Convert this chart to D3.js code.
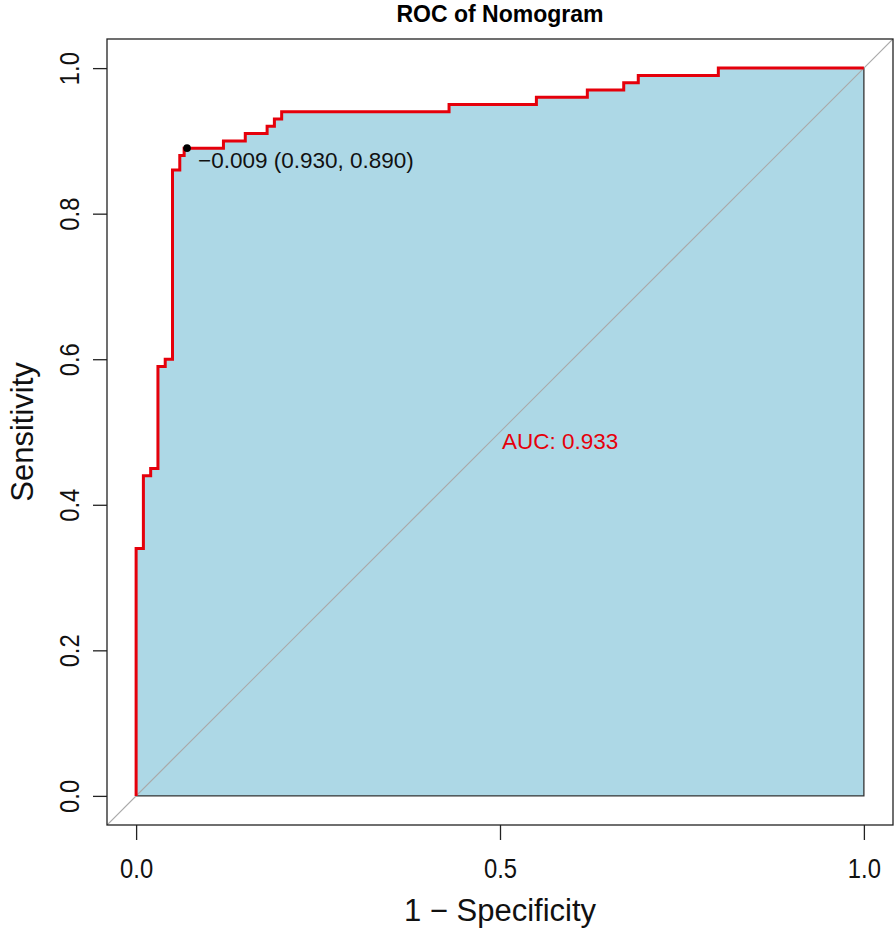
<!DOCTYPE html>
<html>
<head>
<meta charset="utf-8">
<script src="https://cdn.jsdelivr.net/npm/d3@7"></script>
<style>
  body { margin: 0; background: #fff; }
  svg { font-family: "Liberation Sans", Arial, sans-serif; }
  .axis path, .axis line { stroke: #222; stroke-width: 1.3; }
  .axis text { font-size: 28px; fill: #111; }
  .label { font-size: 31px; fill: #111; }
</style>
</head>
<body>
<script>
// ROC curve points (1 - specificity, sensitivity), step drawn vertical then horizontal
var fpr = [0, 0.01, 0.02, 0.03, 0.04, 0.05, 0.06, 0.066, 0.12, 0.15, 0.18, 0.19, 0.20, 0.43, 0.55, 0.62, 0.67, 0.69, 0.80, 1.0];
var tpr = [0, 0.34, 0.44, 0.45, 0.59, 0.60, 0.86, 0.88, 0.89, 0.90, 0.91, 0.92, 0.93, 0.94, 0.95, 0.96, 0.97, 0.98, 0.99, 1.0];

var xTicks = [0, 0.5, 1];
var yTicks = [0, 0.2, 0.4, 0.6, 0.8, 1];

// best threshold and AUC printed on the plot
var bestThreshold = -0.009, bestSpec = 0.930, bestSens = 0.890;
var auc = 0.933;

var width = 896, height = 930;
var box = {left: 107, right: 893, top: 39, bottom: 825};

var xScale = d3.scaleLinear().domain([-0.04, 1.04]).range([box.left, box.right]);
var yScale = d3.scaleLinear().domain([-0.04, 1.04]).range([box.bottom, box.top]);

var svg = d3.select("body").append("svg")
    .attr("width", width)
    .attr("height", height);

var data = fpr.map(function(d, i) { return {x: d, y: tpr[i]}; });

svg.append("defs").append("clipPath")
    .attr("id", "clip")
  .append("rect")
    .attr("x", box.left).attr("y", box.top)
    .attr("width", box.right - box.left)
    .attr("height", box.bottom - box.top);

// AUC polygon
var area = d3.area()
    .curve(d3.curveStepBefore)
    .x(function(d) { return xScale(d.x); })
    .y0(yScale(0))
    .y1(function(d) { return yScale(d.y); });

svg.append("path")
    .datum(data)
    .attr("d", area)
    .attr("fill", "#add8e6")
    .attr("stroke", "#333")
    .attr("stroke-width", 1.3);

// diagonal reference line
svg.append("line")
    .attr("clip-path", "url(#clip)")
    .attr("x1", xScale(-0.04)).attr("y1", yScale(-0.04))
    .attr("x2", xScale(1.04)).attr("y2", yScale(1.04))
    .attr("stroke", "#a9a9a9")
    .attr("stroke-width", 1.2);

// ROC curve
var line = d3.line()
    .curve(d3.curveStepBefore)
    .x(function(d) { return xScale(d.x); })
    .y(function(d) { return yScale(d.y); });

svg.append("path")
    .datum(data)
    .attr("d", line)
    .attr("fill", "none")
    .attr("stroke", "#e5000b")
    .attr("stroke-width", 3);

// plot box
svg.append("rect")
    .attr("x", box.left).attr("y", box.top)
    .attr("width", box.right - box.left)
    .attr("height", box.bottom - box.top)
    .attr("fill", "none")
    .attr("stroke", "#222")
    .attr("stroke-width", 1.3);

// axes
var xAxis = d3.axisBottom(xScale).tickValues(xTicks)
    .tickFormat(d3.format(".1f")).tickSize(15).tickSizeOuter(0).tickPadding(18);
var yAxis = d3.axisLeft(yScale).tickValues(yTicks)
    .tickFormat(d3.format(".1f")).tickSize(14).tickSizeOuter(0);

var gx = svg.append("g")
    .attr("class", "axis")
    .attr("transform", "translate(0," + box.bottom + ")")
    .call(xAxis);
gx.select(".domain").remove();
// narrow, tall digits as in the original device
gx.selectAll(".tick text").attr("transform", "scale(0.85,1)");

var gy = svg.append("g")
    .attr("class", "axis")
    .attr("transform", "translate(" + box.left + ",0)")
    .call(yAxis);
gy.select(".domain").remove();
gy.selectAll(".tick text")
    .attr("transform", "rotate(-90) scale(0.85,1)")
    .attr("x", 0)
    .attr("y", -28)
    .attr("dy", 0)
    .style("text-anchor", "middle");

// labels
svg.append("text")
    .attr("class", "label")
    .attr("x", xScale(0.5))
    .attr("y", 921)
    .style("text-anchor", "middle")
    .text("1 \u2212 Specificity");

svg.append("text")
    .attr("class", "label")
    .attr("transform", "translate(33," + yScale(0.5) + ") rotate(-90)")
    .style("text-anchor", "middle")
    .text("Sensitivity");

svg.append("text")
    .attr("x", xScale(0.5))
    .attr("y", 22)
    .style("text-anchor", "middle")
    .style("font-weight", "bold")
    .style("font-size", "23px")
    .text("ROC of Nomogram");

// best threshold point
var fmt = d3.format(".3f");
svg.append("circle")
    .attr("cx", xScale(1 - bestSpec))
    .attr("cy", yScale(bestSens))
    .attr("r", 3.8)
    .attr("fill", "#000");

svg.append("text")
    .attr("x", xScale(1 - bestSpec) + 11)
    .attr("y", yScale(bestSens) + 20)
    .style("font-size", "22.5px")
    .attr("fill", "#111")
    .text(fmt(bestThreshold).replace("-", "\u2212") + " (" + fmt(bestSpec) + ", " + fmt(bestSens) + ")");

svg.append("text")
    .attr("x", xScale(0.5) + 2)
    .attr("y", yScale(0.5) + 17)
    .style("font-size", "22.5px")
    .attr("fill", "#e5000b")
    .text("AUC: " + fmt(auc));
</script>
</body>
</html>
